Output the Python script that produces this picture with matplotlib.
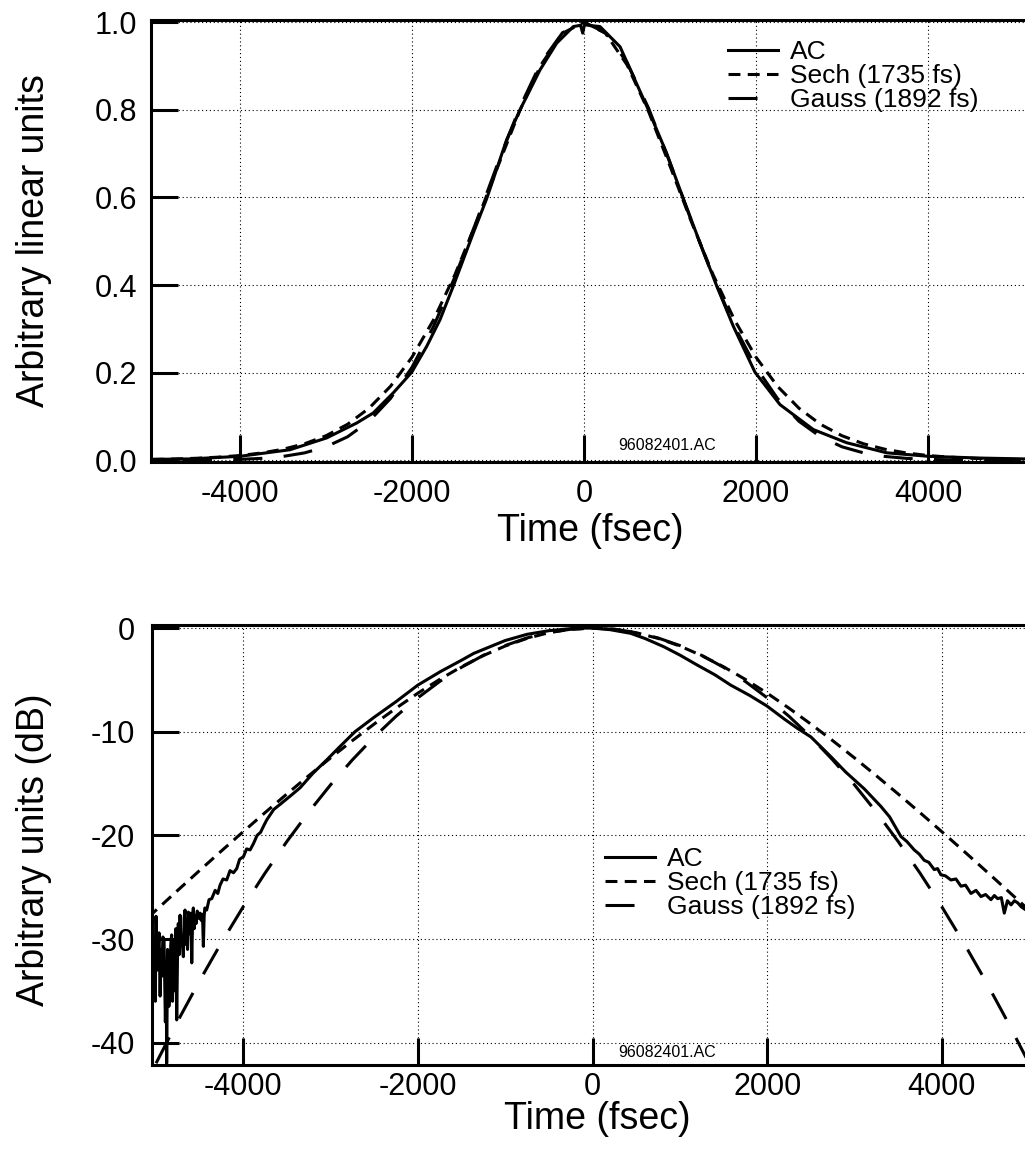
import matplotlib
matplotlib.use('Agg')
import matplotlib.pyplot as plt

plt.rcParams['font.family'] = ['Liberation Sans', 'DejaVu Sans']
plt.rcParams['axes.unicode_minus'] = False

# fit curves, sampled every 250 fs
t_fit = [-5250, -5000, -4750, -4500, -4250, -4000, -3750, -3500, -3250, -3000, -2750,
         -2500, -2250, -2000, -1750, -1500, -1250, -1000, -750, -500, -250, 0,
         250, 500, 750, 1000, 1250, 1500, 1750, 2000, 2250, 2500, 2750,
         3000, 3250, 3500, 3750, 4000, 4250, 4500, 4750, 5000, 5250]

sech_lin = [0.0012, 0.0019, 0.0029, 0.0046, 0.0071, 0.0108, 0.0166, 0.0251, 0.0376, 0.0559, 0.0820,
            0.1187, 0.1688, 0.2353, 0.3203, 0.4240, 0.5436, 0.6717, 0.7966, 0.9028, 0.9746, 1.0,
            0.9746, 0.9028, 0.7966, 0.6717, 0.5436, 0.4240, 0.3203, 0.2353, 0.1688, 0.1187, 0.0820,
            0.0559, 0.0376, 0.0251, 0.0166, 0.0108, 0.0071, 0.0046, 0.0029, 0.0019, 0.0012]

gauss_lin = [0.0000, 0.0001, 0.0002, 0.0004, 0.0009, 0.0020, 0.0043, 0.0087, 0.0168, 0.0307, 0.0535,
             0.0889, 0.1410, 0.2123, 0.3055, 0.4190, 0.5460, 0.6790, 0.8040, 0.9080, 0.9760, 1.0,
             0.9760, 0.9080, 0.8040, 0.6790, 0.5460, 0.4190, 0.3055, 0.2123, 0.1410, 0.0889, 0.0535,
             0.0307, 0.0168, 0.0087, 0.0043, 0.0020, 0.0009, 0.0004, 0.0002, 0.0001, 0.0000]

sech_db = [-29.18, -27.24, -25.31, -23.40, -21.51, -19.65, -17.81, -16.01, -14.25, -12.53, -10.86,
           -9.26, -7.73, -6.28, -4.95, -3.73, -2.65, -1.73, -0.99, -0.44, -0.11, 0.0,
           -0.11, -0.44, -0.99, -1.73, -2.65, -3.73, -4.95, -6.28, -7.73, -9.26, -10.86,
           -12.53, -14.25, -16.01, -17.81, -19.65, -21.51, -23.40, -25.31, -27.24, -29.18]

gauss_db = [-46.35, -42.04, -37.94, -34.05, -30.37, -26.90, -23.65, -20.60, -17.76, -15.13, -12.72,
            -10.51, -8.51, -6.73, -5.15, -3.78, -2.63, -1.68, -0.95, -0.42, -0.11, 0.0,
            -0.11, -0.42, -0.95, -1.68, -2.63, -3.78, -5.15, -6.73, -8.51, -10.51, -12.72,
            -15.13, -17.76, -20.60, -23.65, -26.90, -30.37, -34.05, -37.94, -42.04, -46.35]

# measured autocorrelation, linear scale
t_ac_lin = [-5035, -4581, -4000, -3419, -2992, -2643, -2450, -2217, -2003, -1829, -1674,
            -1519, -1287, -1132, -899, -744, -512, -318, -124, -40, -15, 5,
            186, 419, 748, 961, 1155, 1349, 1543, 1736, 1988, 2279, 2667,
            3054, 3519, 4003, 4605, 5128]
ac_lin = [0.002, 0.003, 0.009, 0.024, 0.051, 0.085, 0.108, 0.154, 0.201, 0.260, 0.321,
          0.398, 0.519, 0.597, 0.732, 0.800, 0.891, 0.952, 0.990, 0.993, 0.975, 0.994,
          0.990, 0.944, 0.800, 0.701, 0.597, 0.496, 0.398, 0.306, 0.201, 0.127, 0.070,
          0.040, 0.017, 0.009, 0.005, 0.003]

# measured autocorrelation, dB scale (noisy floor on the left)
t_ac_db = [-5040, -5028, -5015, -5005, -4997, -4985, -4975, -4962, -4950, -4940, -4932,
           -4918, -4905, -4890, -4880, -4875, -4865, -4850, -4837, -4828, -4818, -4808,
           -4798, -4780, -4770, -4760, -4750, -4742, -4732, -4722, -4710, -4700, -4684,
           -4675, -4665, -4655, -4645, -4636, -4626, -4615, -4607, -4597, -4588, -4578,
           -4570, -4560, -4550, -4538, -4525, -4510, -4493, -4480, -4470, -4462, -4455,
           -4446, -4438, -4417,
           -4390, -4359, -4320, -4290, -4264, -4230, -4188, -4150, -4110, -4073,
           -4040, -3996, -3960, -3920, -3882, -3840, -3800, -3760, -3729, -3650, -3576,
           -3460, -3347, -3200, -3041, -2900, -2720, -2500, -2250, -2000, -1742, -1500,
           -1360, -1000, -750, -500, -250, -100, 0, 200, 435, 600, 817,
           1000, 1200, 1400, 1582, 1800, 1994, 2200, 2346, 2500, 2728, 2900,
           3110, 3301, 3400, 3530, 3600, 3683, 3740, 3797, 3850, 3912, 3950,
           3988, 4040, 4103, 4160, 4218, 4270, 4332, 4390, 4447, 4500, 4561,
           4600, 4638, 4680, 4714, 4750, 4791, 4830, 4867, 4910, 4963, 5000]
ac_db = [-27.6, -33.5, -30.5, -36.0, -27.8, -33.0, -31.5, -29.4, -35.5, -31.0, -33.6,
         -29.8, -30.1, -38.0, -33.0, -42.0, -31.0, -36.5, -34.9, -30.5, -29.6, -36.0,
         -30.1, -35.0, -29.0, -37.8, -31.0, -28.5, -31.5, -27.7, -30.5, -30.0, -31.7,
         -28.0, -27.2, -30.5, -28.8, -31.0, -27.4, -29.0, -29.5, -27.5, -32.3, -28.0,
         -27.0, -29.0, -27.7, -28.5, -27.3, -28.0, -27.5, -28.2, -27.6, -28.5, -30.7,
         -27.8, -27.0, -27.2,
         -26.2, -26.1, -25.3, -25.6, -24.8, -24.2, -24.3, -23.4, -23.6, -23.2,
         -22.3, -22.05, -21.3, -21.4, -20.8, -20.0, -19.7, -19.0, -18.5, -17.5, -17.0,
         -16.2, -15.4, -14.0, -12.7, -11.5, -10.0, -8.6, -7.1, -5.5, -4.2, -3.1,
         -2.44, -1.2, -0.6, -0.25, -0.05, 0.0, 0.0, -0.15, -0.5, -1.0, -1.8,
         -2.6, -3.57, -4.5, -5.5, -6.5, -7.5, -8.8, -9.67, -10.5, -12.4, -13.9,
         -15.5, -17.2, -18.2, -20.1, -20.6, -21.4, -21.8, -22.4, -22.6, -23.3, -23.2,
         -23.8, -23.9, -24.3, -24.2, -24.9, -24.8, -25.6, -25.3, -25.9, -25.7, -26.2,
         -25.8, -26.1, -26.0, -27.5, -26.3, -26.7, -26.3, -26.5, -26.9, -27.2, -27.0]

labels = ['AC', 'Sech (1735 fs)', 'Gauss (1892 fs)']
file_tag = '96082401.AC'

LW = 2.2
sech_style = (0, (3.9, 2.4))
gauss_style = (0, (9.5, 7.0))


def style_axes(ax):
    for side in ['left', 'top', 'bottom']:
        ax.spines[side].set_linewidth(2.2)
    ax.spines['right'].set_visible(False)
    ax.tick_params(direction='in', length=19.5, width=2.2, labelsize=22,
                   top=False, right=False)
    ax.grid(True, color='black', linewidth=0.8, linestyle=(0, (1, 2.5)))
    ax.set_xticks([-4000, -2000, 0, 2000, 4000])


def add_legend(ax, anchor):
    ax.legend(loc='upper left', bbox_to_anchor=anchor, frameon=False,
              fontsize=19, handlelength=1.9, handletextpad=0.45, labelspacing=0.0,
              borderpad=0, borderaxespad=0)


fig = plt.figure(figsize=(10.25, 11.58), dpi=100)

# top panel: linear
ax1 = fig.add_axes([151 / 1025, 696 / 1158, 874 / 1025, 442 / 1158])
ax1.plot(t_ac_lin, ac_lin, color='black', lw=LW, label=labels[0])
ax1.plot(t_fit, sech_lin, color='black', lw=LW, linestyle=sech_style, label=labels[1])
ax1.plot(t_fit, gauss_lin, color='black', lw=LW, linestyle=gauss_style, label=labels[2])
style_axes(ax1)
ax1.set_xlim(-5035, 5128)
ax1.set_ylim(-0.004, 1.005)
ax1.set_yticks([0.0, 0.2, 0.4, 0.6, 0.8, 1.0])
ax1.set_yticklabels(['0.0', '0.2', '0.4', '0.6', '0.8', '1.0'])
ax1.tick_params(axis='x', pad=12)
ax1.tick_params(axis='y', pad=10)
ax1.set_xlabel('Time (fsec)', fontsize=27)
ax1.set_ylabel('Arbitrary linear units', fontsize=27)
ax1.xaxis.set_label_coords(0.503, -0.115)
ax1.yaxis.set_label_coords(-0.113, 0.5)
ax1.text(400, 0.034, file_tag, fontsize=11.5, va='center', ha='left')
add_legend(ax1, (0.660, 0.955))

# bottom panel: dB
ax2 = fig.add_axes([152 / 1025, 93 / 1158, 873 / 1025, 440 / 1158])
ax2.plot(t_ac_db, ac_db, color='black', lw=LW, label=labels[0])
ax2.plot(t_fit, sech_db, color='black', lw=LW, linestyle=sech_style, label=labels[1])
ax2.plot(t_fit, gauss_db, color='black', lw=LW, linestyle=gauss_style, label=labels[2])
style_axes(ax2)
ax2.set_xlim(-5043, 4951)
ax2.set_ylim(-42.15, 0.3)
ax2.set_yticks([0, -10, -20, -30, -40])
ax2.tick_params(axis='x', pad=5)
ax2.tick_params(axis='y', pad=12)
ax2.set_xlabel('Time (fsec)', fontsize=27)
ax2.set_ylabel('Arbitrary units (dB)', fontsize=27)
ax2.xaxis.set_label_coords(0.51, -0.082)
ax2.yaxis.set_label_coords(-0.115, 0.49)
ax2.text(300, -40.9, file_tag, fontsize=11.5, va='center', ha='left')
add_legend(ax2, (0.519, 0.495))

fig.savefig('out.png', dpi=100)
